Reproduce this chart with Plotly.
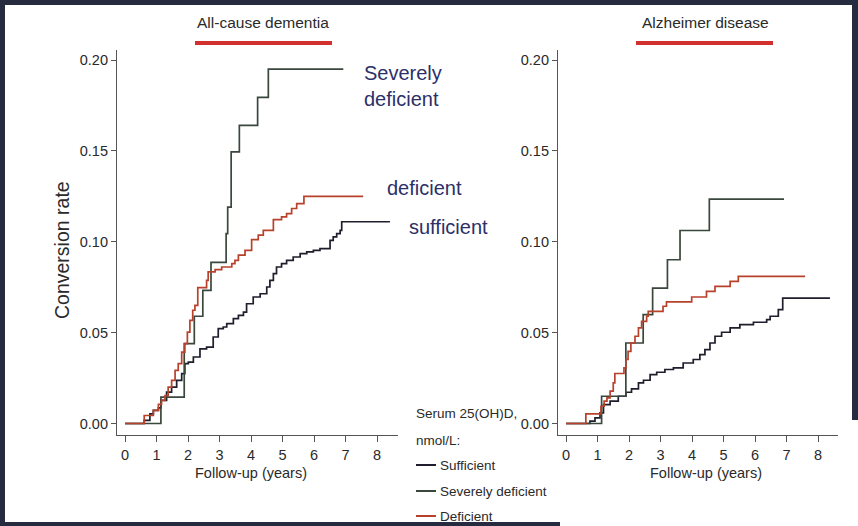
import plotly.graph_objects as go

# ---------------- data (years, conversion rate) ----------------
# All-cause dementia
acd_suff_t = [0, 0.61, 0.79, 0.90, 1.06, 1.14, 1.32, 1.48, 1.64, 1.80, 1.90, 2.01, 2.17, 2.38, 2.59,
              2.80, 2.96, 3.12, 3.23, 3.44, 3.60, 3.76, 3.86, 4.07, 4.29, 4.50, 4.60, 4.71, 4.81,
              4.97, 5.13, 5.34, 5.56, 5.77, 5.98, 6.19, 6.40, 6.51, 6.61, 6.72, 6.83, 6.88, 8.41]
acd_suff_v = [0, 0.0017, 0.0053, 0.0072, 0.0086, 0.0127, 0.0173, 0.0200, 0.0237, 0.0274, 0.0329,
              0.0338, 0.0366, 0.0411, 0.0420, 0.0476, 0.0522, 0.0531, 0.0549, 0.0577, 0.0595,
              0.0613, 0.0659, 0.0696, 0.0714, 0.0751, 0.0788, 0.0825, 0.0861, 0.0880, 0.0898,
              0.0916, 0.0935, 0.0944, 0.0953, 0.0962, 0.0962, 0.1008, 0.1027, 0.1045, 0.1063,
              0.1110, 0.1110]

acd_sev_t = [0, 1.14, 1.88, 2.20, 2.47, 2.73, 3.21, 3.26, 3.37, 3.63, 4.21, 4.55, 6.93]
acd_sev_v = [0, 0.0145, 0.0439, 0.0590, 0.0733, 0.0887, 0.1045, 0.1190, 0.1495, 0.1640, 0.1794,
             0.1950, 0.1950]

acd_def_t = [0, 0.61, 0.90, 1.06, 1.16, 1.27, 1.37, 1.48, 1.59, 1.69, 1.80, 1.90, 1.98, 2.06, 2.15,
             2.22, 2.31, 2.59, 2.64, 2.86, 3.07, 3.39, 3.49, 3.60, 3.81, 4.02, 4.23, 4.39, 4.71,
             4.97, 5.13, 5.29, 5.45, 5.68, 7.56]
acd_def_v = [0, 0.0044, 0.0072, 0.0105, 0.0127, 0.0154, 0.0200, 0.0237, 0.0292, 0.0329, 0.0393,
             0.0439, 0.0503, 0.0567, 0.0623, 0.0650, 0.0748, 0.0788, 0.0834, 0.0847, 0.0861,
             0.0880, 0.0898, 0.0926, 0.0953, 0.1012, 0.1036, 0.1063, 0.1122, 0.1137, 0.1155,
             0.1183, 0.1210, 0.1250, 0.1250]

# Alzheimer disease
ad_suff_t = [0, 0.76, 0.92, 1.08, 1.19, 1.40, 1.66, 1.90, 2.08, 2.30, 2.46, 2.67, 2.88, 3.14, 3.41,
             3.72, 4.04, 4.25, 4.41, 4.57, 4.73, 4.94, 5.21, 5.52, 5.95, 6.37, 6.48, 6.74, 6.88, 8.38]
ad_suff_v = [0, 0.0013, 0.0031, 0.0059, 0.0104, 0.0123, 0.0150, 0.0172, 0.0191, 0.0223, 0.0238,
             0.0269, 0.0282, 0.0297, 0.0306, 0.0333, 0.0352, 0.0379, 0.0407, 0.0443, 0.0480,
             0.0502, 0.0526, 0.0544, 0.0557, 0.0571, 0.0590, 0.0626, 0.0690, 0.0690]

ad_sev_t = [0, 1.13, 1.90, 2.45, 2.75, 3.22, 3.62, 4.55, 6.92]
ad_sev_v = [0, 0.0150, 0.0443, 0.0599, 0.0745, 0.0901, 0.1062, 0.1235, 0.1235]

ad_def_t = [0, 0.63, 1.11, 1.21, 1.30, 1.40, 1.50, 1.55, 1.84, 1.90, 1.97, 2.06, 2.19, 2.30, 2.40,
            2.56, 2.61, 3.08, 3.19, 3.99, 4.46, 4.73, 5.21, 5.47, 7.59]
ad_def_v = [0, 0.0053, 0.0095, 0.0123, 0.0141, 0.0178, 0.0223, 0.0275, 0.0306, 0.0352, 0.0397,
            0.0443, 0.0480, 0.0526, 0.0562, 0.0590, 0.0617, 0.0645, 0.0669, 0.0696, 0.0727,
            0.0755, 0.0782, 0.0809, 0.0809]

x_ticks = [0, 1, 2, 3, 4, 5, 6, 7, 8]
y_ticks = [0.00, 0.05, 0.10, 0.15, 0.20]
panel_titles = ["All-cause dementia", "Alzheimer disease"]
legend_title = ["Serum 25(OH)D,", "nmol/L:"]
legend_labels = ["Sufficient", "Severely deficient", "Deficient"]
curve_labels = ["Severely<br>deficient", "deficient", "sufficient"]

# ---------------- style ----------------
W, H = 858, 526
C_SUFF = "#1e1e2c"
C_SEV = "#3a473c"
C_DEF = "#b8412c"
NAVY = "#2c3068"
NARROW = "Liberation Sans Narrow, Arial Narrow, Liberation Sans, Arial, sans-serif"
ARIAL = "Liberation Sans, Arial, sans-serif"
TXT = "#2a2a2a"


def fx(px):
    return px / W


def fy(py):
    return 1 - py / H


fig = go.Figure()

series = [
    ("x", "y", acd_suff_t, acd_suff_v, C_SUFF),
    ("x", "y", acd_sev_t, acd_sev_v, C_SEV),
    ("x", "y", acd_def_t, acd_def_v, C_DEF),
    ("x2", "y2", ad_suff_t, ad_suff_v, C_SUFF),
    ("x2", "y2", ad_sev_t, ad_sev_v, C_SEV),
    ("x2", "y2", ad_def_t, ad_def_v, C_DEF),
]
for xa, ya, t, v, c in series:
    fig.add_trace(go.Scatter(x=t, y=v, xaxis=xa, yaxis=ya, mode="lines",
                             line=dict(color=c, width=1.7, shape="hv"),
                             showlegend=False, hoverinfo="skip"))

# pixel geometry
X0_L, PXY = 125.0, 31.5      # x of t=0 (left), px per year
X0_R = 566.0
Y0, PXV = 423.5, 1817.5      # y of v=0, px per unit
AX_TOP, AX_BOT = 50.0, 435.0
L_LEFT, L_RIGHT = 117.0, 398.0
R_LEFT, R_RIGHT = 558.0, 838.0

yrange = [-(AX_BOT - Y0) / PXV, (Y0 - AX_TOP) / PXV]
ydom = [fy(AX_BOT), fy(AX_TOP)]

common_x = dict(tickmode="array", tickvals=x_ticks, ticktext=[str(v) for v in x_ticks],
                showline=True, linecolor="#555", linewidth=1.2, ticks="outside", ticklen=6,
                tickcolor="#555", tickwidth=1, showgrid=False, zeroline=False,
                tickfont=dict(family=NARROW, size=14.5, color=TXT), fixedrange=True)
common_y = dict(tickmode="array", tickvals=y_ticks, ticktext=[f"{v:.2f}" for v in y_ticks],
                showline=True, linecolor="#555", linewidth=1.2, ticks="outside", ticklen=5,
                tickcolor="#555", tickwidth=1, showgrid=False, zeroline=False,
                tickfont=dict(family=NARROW, size=14.5, color=TXT), range=yrange, domain=ydom,
                fixedrange=True)

fig.update_layout(
    width=W, height=H,
    margin=dict(l=0, r=0, t=0, b=0),
    paper_bgcolor="white", plot_bgcolor="rgba(0,0,0,0)",
    showlegend=False,
    xaxis=dict(common_x, domain=[fx(L_LEFT), fx(L_RIGHT)],
               range=[(L_LEFT - X0_L) / PXY, (L_RIGHT - X0_L) / PXY], anchor="y"),
    yaxis=dict(common_y, anchor="x"),
    xaxis2=dict(common_x, domain=[fx(R_LEFT), fx(R_RIGHT)],
                range=[(R_LEFT - X0_R) / PXY, (R_RIGHT - X0_R) / PXY], anchor="y2"),
    yaxis2=dict(common_y, anchor="x2"),
)

shapes = []
# dark frame
FRAME = "#262b40"
shapes += [
    dict(type="rect", xref="paper", yref="paper", x0=0, x1=1, y0=fy(5), y1=1,
         fillcolor=FRAME, line_width=0, layer="below"),
    dict(type="rect", xref="paper", yref="paper", x0=0, x1=fx(5), y0=0, y1=1,
         fillcolor=FRAME, line_width=0, layer="below"),
    dict(type="rect", xref="paper", yref="paper", x0=fx(852), x1=1, y0=fy(420), y1=1,
         fillcolor=FRAME, line_width=0, layer="below"),
    dict(type="rect", xref="paper", yref="paper", x0=0, x1=fx(560), y0=0, y1=fy(522),
         fillcolor=FRAME, line_width=0, layer="below"),
]
# red bars under titles
for x0, x1 in [(195, 332), (636, 773)]:
    shapes.append(dict(type="line", xref="paper", yref="paper", x0=fx(x0), x1=fx(x1),
                       y0=fy(43), y1=fy(43), line=dict(color="#d1302c", width=4)))
# legend line samples
for yy, c in zip([465, 491, 516], [C_SUFF, C_SEV, C_DEF]):
    shapes.append(dict(type="line", xref="paper", yref="paper", x0=fx(416), x1=fx(436),
                       y0=fy(yy), y1=fy(yy), line=dict(color=c, width=2)))

ann = []
for txt, cx in zip(panel_titles, [263, 705]):
    ann.append(dict(text=txt, x=fx(cx), y=fy(23), xref="paper", yref="paper",
                    showarrow=False, font=dict(family=NARROW, size=15.5, color=TXT),
                    xanchor="center", yanchor="middle"))
# axis titles
for cx in [251, 706]:
    ann.append(dict(text="Follow-up (years)", x=fx(cx), y=fy(473), xref="paper", yref="paper",
                    showarrow=False, font=dict(family=NARROW, size=14.5, color=TXT),
                    xanchor="center", yanchor="middle"))
ann.append(dict(text="Conversion rate", x=fx(62), y=fy(250), xref="paper", yref="paper",
                showarrow=False, textangle=-90, font=dict(family=ARIAL, size=19.5, color=TXT),
                xanchor="center", yanchor="middle"))
# curve labels
for txt, lx, ly in zip(curve_labels, [362, 385, 407], [86, 188, 227]):
    ann.append(dict(text=txt, x=fx(lx), y=fy(ly), xref="paper", yref="paper",
                    showarrow=False, align="left", font=dict(family=ARIAL, size=20, color=NAVY),
                    xanchor="left", yanchor="middle"))
# legend texts
for txt, ly in zip(legend_title, [413, 440]):
    ann.append(dict(text=txt, x=fx(414), y=fy(ly), xref="paper", yref="paper",
                    showarrow=False, font=dict(family=NARROW, size=13.5, color=TXT),
                    xanchor="left", yanchor="middle"))
for txt, ly in zip(legend_labels, [465, 491, 516]):
    ann.append(dict(text=txt, x=fx(438), y=fy(ly), xref="paper", yref="paper",
                    showarrow=False, font=dict(family=NARROW, size=13.5, color=TXT),
                    xanchor="left", yanchor="middle"))

fig.update_layout(shapes=shapes, annotations=ann)
fig.write_html("out.html", config={"displayModeBar": False},
               post_script="document.body.style.margin='0';document.body.style.padding='0';")
